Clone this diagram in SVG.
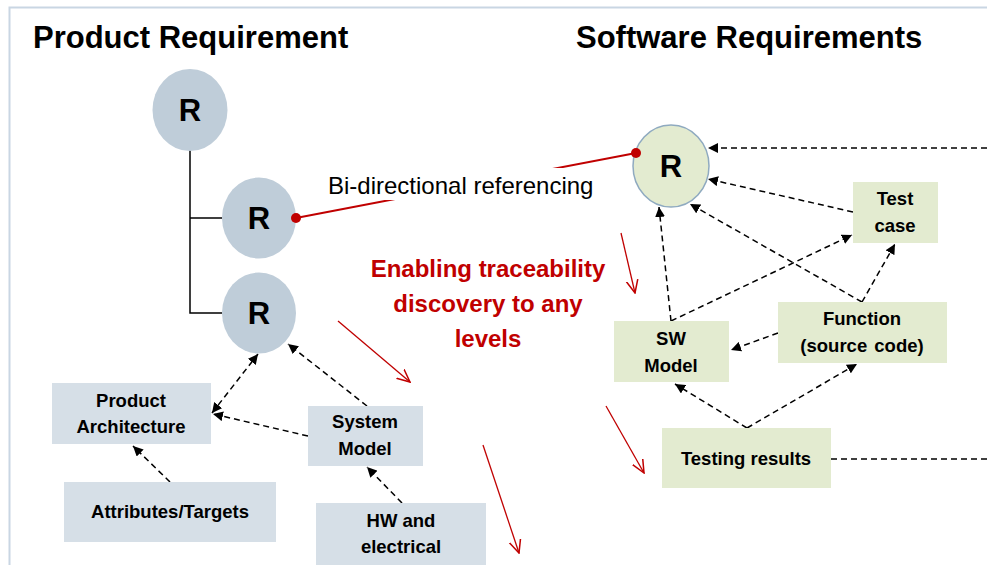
<svg xmlns="http://www.w3.org/2000/svg" width="987" height="565" viewBox="0 0 987 565">
<defs>
<marker id="ah" viewBox="0 0 10 10" refX="10" refY="5" markerWidth="10" markerHeight="10" markerUnits="userSpaceOnUse" orient="auto-start-reverse">
<path d="M0,0 L10,5 L0,10 Z" fill="#000"/>
</marker>
<marker id="rv" viewBox="0 0 12 12" refX="11" refY="6" markerWidth="14" markerHeight="14" markerUnits="userSpaceOnUse" orient="auto">
<path d="M0,1 L11,6 L0,11" fill="none" stroke="#c00000" stroke-width="1.3"/>
</marker>
<style>
.title{font-family:"Liberation Sans",Arial,sans-serif;font-weight:bold;font-size:31px;fill:#000}
.r{font-family:"Liberation Sans",Arial,sans-serif;font-weight:bold;font-size:31px;fill:#000;text-anchor:middle}
.lbl{font-family:"Liberation Sans",Arial,sans-serif;font-weight:bold;font-size:18.5px;fill:#000;text-anchor:middle}
.circ{fill:#bfcdd9}
.box{fill:#d6dfe7}
.gbox{fill:#e3ebd0}
.dash{fill:none;stroke:#000;stroke-width:1.5;stroke-dasharray:6,4}
.tree{fill:none;stroke:#000;stroke-width:1.5}
.red{fill:none;stroke:#c00000;stroke-width:1.3}
.redtxt{font-family:"Liberation Sans",Arial,sans-serif;font-weight:bold;font-size:24px;fill:#c00000;text-anchor:middle}
</style>
</defs>
<rect width="987" height="565" fill="#fff"/>
<path d="M9.5,565 V7.5 H987" fill="none" stroke="#c9d6e3" stroke-width="2"/>
<text class="title" x="33" y="48">Product Requirement</text>
<text class="title" x="576" y="48">Software Requirements</text>

<g id="tree-lines">
<path class="tree" d="M190,150 V313 H222 M190,218 H222"/>
</g>

<g id="connectors">
<line class="dash" x1="987" y1="148" x2="708" y2="148" marker-end="url(#ah)"/>
<line class="dash" x1="853" y1="212" x2="708" y2="179" marker-end="url(#ah)"/>
<line class="dash" x1="862" y1="302" x2="690" y2="204" marker-end="url(#ah)"/>
<line class="dash" x1="862" y1="302" x2="895" y2="244" marker-end="url(#ah)"/>
<line class="dash" x1="671" y1="321" x2="659" y2="207" marker-end="url(#ah)"/>
<line class="dash" x1="671" y1="321" x2="852" y2="235" marker-end="url(#ah)"/>
<line class="dash" x1="778" y1="333" x2="731" y2="350" marker-end="url(#ah)"/>
<line class="dash" x1="747" y1="428" x2="675" y2="384" marker-end="url(#ah)"/>
<line class="dash" x1="747" y1="428" x2="857" y2="364" marker-end="url(#ah)"/>
<line class="dash" x1="831" y1="459" x2="987" y2="459"/>
<line class="dash" x1="212" y1="413" x2="258" y2="354" marker-start="url(#ah)" marker-end="url(#ah)"/>
<line class="dash" x1="308" y1="436" x2="213" y2="414" marker-end="url(#ah)"/>
<line class="dash" x1="367" y1="406" x2="288" y2="344" marker-end="url(#ah)"/>
<line class="dash" x1="170" y1="482" x2="133" y2="446" marker-end="url(#ah)"/>
<line class="dash" x1="402" y1="503" x2="367" y2="467" marker-end="url(#ah)"/>
</g>

<g id="bidirectional-link">
<line x1="296" y1="218" x2="636" y2="153" stroke="#c00000" stroke-width="2"/>
<rect x="320" y="168" width="280" height="32" fill="#fff"/>
<text x="328" y="194" font-family="'Liberation Sans',Arial,sans-serif" font-size="24" fill="#000">Bi-directional referencing</text>
</g>

<g id="node-r1"><ellipse class="circ" cx="190" cy="110" rx="37.5" ry="41"/><text class="r" x="190" y="121">R</text></g>
<g id="node-r2"><ellipse class="circ" cx="259" cy="218" rx="37" ry="40.5"/><text class="r" x="259" y="229">R</text></g>
<g id="node-r3"><ellipse class="circ" cx="259" cy="313" rx="37" ry="40.5"/><text class="r" x="259" y="324">R</text></g>
<g id="node-r-sw"><ellipse cx="671" cy="166" rx="38" ry="41" fill="#e3ebd0" stroke="#8faac0" stroke-width="1.5"/><text class="r" x="671" y="177">R</text></g>
<circle cx="296" cy="218" r="5" fill="#c00000"/>
<circle cx="636" cy="153" r="5" fill="#c00000"/>

<g id="node-product-architecture"><rect class="box" x="52" y="383" width="159" height="61"/><text class="lbl" x="131" y="407">Product</text><text class="lbl" x="131" y="433">Architecture</text></g>
<g id="node-attributes"><rect class="box" x="64" y="482" width="212" height="60"/><text class="lbl" x="170" y="518">Attributes/Targets</text></g>
<g id="node-system-model"><rect class="box" x="308" y="406" width="115" height="60"/><text class="lbl" x="365" y="428">System</text><text class="lbl" x="365" y="455">Model</text></g>
<g id="node-hw"><rect class="box" x="316" y="503" width="170" height="70"/><text class="lbl" x="401" y="527">HW and</text><text class="lbl" x="401" y="553">electrical</text></g>

<g id="node-test-case"><rect class="gbox" x="853" y="182" width="85" height="61"/><text class="lbl" x="895" y="205">Test</text><text class="lbl" x="895" y="232">case</text></g>
<g id="node-function"><rect class="gbox" x="778" y="302" width="169" height="61"/><text class="lbl" x="862" y="325">Function</text><text class="lbl" x="862" y="352" word-spacing="2">(source code)</text></g>
<g id="node-sw-model"><rect class="gbox" x="614" y="321" width="115" height="61"/><text class="lbl" x="671" y="345">SW</text><text class="lbl" x="671" y="372">Model</text></g>
<g id="node-testing-results"><rect class="gbox" x="662" y="428" width="169" height="60"/><text class="lbl" x="746" y="465">Testing results</text></g>

<g id="traceability-note">
<text class="redtxt" x="488" y="277">Enabling traceability</text>
<text class="redtxt" x="488" y="312">discovery to any</text>
<text class="redtxt" x="488" y="347">levels</text>
<line class="red" x1="338" y1="321" x2="410" y2="382" marker-end="url(#rv)"/>
<line class="red" x1="621" y1="233" x2="635" y2="293" marker-end="url(#rv)"/>
<line class="red" x1="606" y1="406" x2="644" y2="473" marker-end="url(#rv)"/>
<line class="red" x1="483" y1="445" x2="519" y2="553" marker-end="url(#rv)"/>
</g>
</svg>
